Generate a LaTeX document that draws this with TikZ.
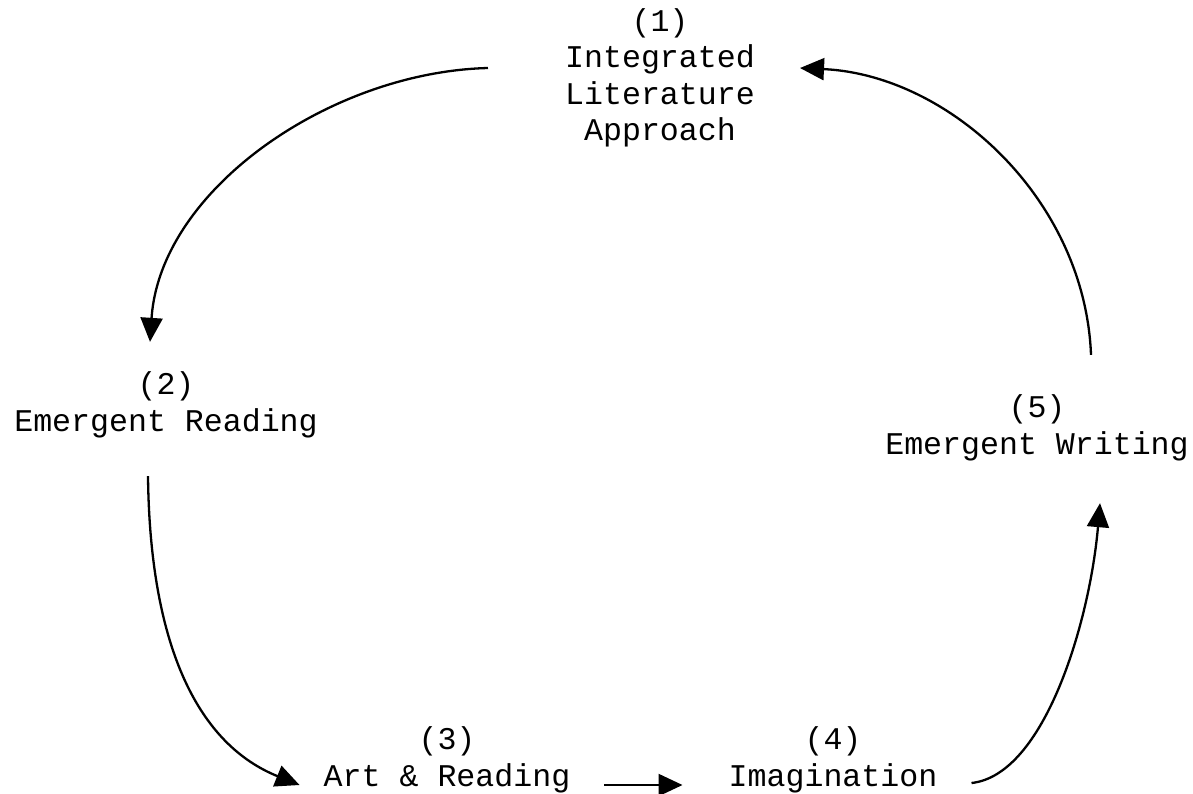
\documentclass[tikz,border=0pt]{standalone}
\usepackage{fontspec}
\setmonofont{Liberation Mono}
\usetikzlibrary{arrows.meta}
\begin{document}
\begin{tikzpicture}[x=1pt,y=-1pt,
  lbl/.style={font=\ttfamily\fontsize{31.6}{36.5}\selectfont, align=center, inner sep=0pt},
  conn/.style={line width=2.3pt, -{Triangle[length=24pt,width=22pt]}}]
\useasboundingbox[fill=white] (0,0) rectangle (1193,793);
\node[lbl] (n1) at (660,78) {(1)\\Integrated\\Literature\\Approach};
\node[lbl] (n2) at (166,405) {(2)\\Emergent Reading};
\node[lbl] (n3) at (447,760) {(3)\\Art \& Reading};
\node[lbl] (n4) at (833,760) {(4)\\Imagination};
\node[lbl] (n5) at (1037,428) {(5)\\Emergent Writing};
\draw[conn] ([shift={(-77,-10)}]n1.west) .. controls (330,72) and (160,190) .. ([shift={(-16,-30)}]n2.north);
\draw[conn] ([shift={(-18,38)}]n2.south) .. controls (150,650) and (200,745) .. ([shift={(-24,25)}]n3.west);
\draw[conn] ([shift={(34,25)}]n3.east) -- ([shift={(-46,25)}]n4.west);
\draw[conn] ([shift={(34,23)}]n4.east) .. controls (1045,775) and (1090,620) .. ([shift={(63,42)}]n5.south);
\draw[conn] ([shift={(54,-40)}]n5.north) .. controls (1085,200) and (950,75) .. ([shift={(45,-10)}]n1.east);
\end{tikzpicture}
\end{document}
